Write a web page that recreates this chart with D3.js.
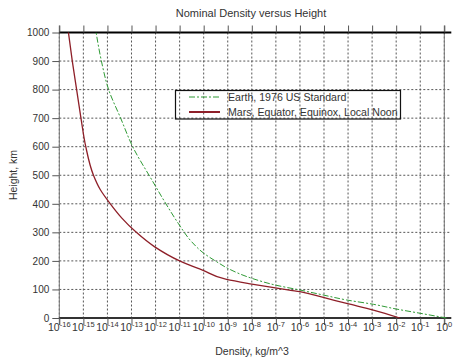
<!DOCTYPE html>
<html>
<head>
<meta charset="utf-8">
<script src="https://cdn.jsdelivr.net/npm/d3@7"></script>
<style>
  body { margin: 0; background: #fff; }
  text { font-family: "Liberation Sans", Arial, sans-serif; fill: #333; }
</style>
</head>
<body>
<svg id="chart" width="474" height="360"></svg>
<script>
// heights in km, densities as log10(kg/m^3)
var earthHeight = [0, 16.5, 31.5, 48, 63, 80, 98, 115, 139, 174, 197, 227, 267, 332, 396, 483, 600, 700, 800, 900, 1000];
var earthLogRho = [0.09, -1.0, -2.0, -2.95, -4.05, -5.0, -6.0, -7.0, -8.0, -9.0, -9.46, -10.0, -10.5, -11.06, -11.54, -12.15, -12.95, -13.45, -13.95, -14.25, -14.47];

var marsHeight = [0, 28, 51, 72, 92, 104, 119, 135, 168, 200, 250, 300, 350, 400, 450, 500, 600, 700, 800, 900, 1000];
var marsLogRho = [-1.85, -2.95, -4.06, -5.03, -6.0, -6.9, -8.0, -9.05, -10.05, -11.0, -12.05, -12.8, -13.4, -13.88, -14.3, -14.58, -14.9, -15.1, -15.28, -15.46, -15.62];

var xExponents = d3.range(-16, 1);
var yTicks = d3.range(0, 1001, 100);
var seriesNames = ["Earth, 1976 US Standard", "Mars, Equator, Equinox, Local Noon"];

var svg = d3.select("#chart");

var x = d3.scaleLog().domain([1e-16, 1]).range([59.3, 444.3]);
var y = d3.scaleLinear().domain([0, 1000]).range([318, 32.5]);

var x0 = x.range()[0], x1 = x.range()[1];
var yTop = y(1000), yBot = y(0);

// grid
svg.append("g").selectAll("line").data(xExponents).enter().append("line")
  .attr("x1", d => x(Math.pow(10, d))).attr("x2", d => x(Math.pow(10, d)))
  .attr("y1", yTop).attr("y2", yBot)
  .attr("stroke", "#555").attr("stroke-dasharray", "2,2");
svg.append("g").selectAll("line").data(yTicks).enter().append("line")
  .attr("x1", x0).attr("x2", x1 + 7)
  .attr("y1", d => y(d)).attr("y2", d => y(d))
  .attr("stroke", "#555").attr("stroke-dasharray", "2,2");

// frame
svg.append("line").attr("x1", x0).attr("x2", x0).attr("y1", yTop - 7).attr("y2", yBot + 7)
  .attr("stroke", "#777");
svg.append("line").attr("x1", x1).attr("x2", x1).attr("y1", yTop - 7).attr("y2", yBot + 7)
  .attr("stroke", "#777");
svg.append("line").attr("x1", x0).attr("x2", x1 + 7).attr("y1", yTop).attr("y2", yTop)
  .attr("stroke", "#000").attr("stroke-width", 2);
svg.append("line").attr("x1", x0).attr("x2", x1 + 7).attr("y1", yBot).attr("y2", yBot)
  .attr("stroke", "#333").attr("stroke-width", 2);

// y axis
var yAxis = svg.append("g").attr("transform", "translate(" + x0 + ",0)")
  .call(d3.axisLeft(y).tickValues(yTicks).tickSize(7).tickSizeOuter(0).tickFormat(d3.format("d")));
yAxis.select(".domain").remove();
yAxis.selectAll("line").attr("stroke", "#555");
yAxis.selectAll("text").attr("x", -10).style("font-size", "10px")
  .style("font-family", "'Liberation Sans', Arial, sans-serif").attr("fill", "#333");

// x axis bottom + top ticks
var xAxis = svg.append("g").attr("transform", "translate(0," + yBot + ")")
  .call(d3.axisBottom(x).tickValues(xExponents.map(d => Math.pow(10, d))).tickSize(7).tickSizeOuter(0).tickFormat(""));
xAxis.select(".domain").remove();
xAxis.selectAll("line").attr("stroke", "#555");
var xTop = svg.append("g").attr("transform", "translate(0," + yTop + ")")
  .call(d3.axisTop(x).tickValues(xExponents.map(d => Math.pow(10, d))).tickSize(7).tickSizeOuter(0).tickFormat(""));
xTop.select(".domain").remove();
xTop.selectAll("line").attr("stroke", "#555");

var labels = svg.append("g").selectAll("text").data(xExponents).enter().append("text")
  .attr("x", d => x(Math.pow(10, d))).attr("y", 331)
  .attr("text-anchor", "middle").style("font-size", "10.5px");
labels.append("tspan").text("10");
labels.append("tspan").attr("dy", -4).style("font-size", "7.5px").text(d => String(d));

// curves
var line = d3.line()
  .x(d => x(Math.pow(10, d[1])))
  .y(d => y(d[0]))
  .curve(d3.curveMonotoneY);

svg.append("path").datum(d3.zip(earthHeight, earthLogRho))
  .attr("d", line).attr("fill", "none")
  .attr("stroke", "#2f9a35").attr("stroke-width", 1)
  .attr("stroke-dasharray", "6,2,2,2");
svg.append("path").datum(d3.zip(marsHeight, marsLogRho))
  .attr("d", line).attr("fill", "none")
  .attr("stroke", "#8e1f28").attr("stroke-width", 1.3);

// legend
var lg = svg.append("g");
lg.append("rect").attr("x", 175.5).attr("y", 90.5).attr("width", 225).attr("height", 28.5)
  .attr("fill", "none").attr("stroke", "#111").attr("stroke-width", 1.2);
lg.append("line").attr("x1", 189).attr("x2", 220).attr("y1", 97).attr("y2", 97)
  .attr("stroke", "#2f9a35").attr("stroke-dasharray", "6,2,2,2");
lg.append("line").attr("x1", 189).attr("x2", 220).attr("y1", 112).attr("y2", 112)
  .attr("stroke", "#8e1f28").attr("stroke-width", 2);
lg.selectAll("text").data(seriesNames).enter().append("text")
  .attr("x", 228).attr("y", (d, i) => 100.5 + i * 15)
  .style("font-size", "10.6px").text(d => d);

// titles
svg.append("text").attr("x", 251).attr("y", 17).attr("text-anchor", "middle")
  .style("font-size", "11px").text("Nominal Density versus Height");
svg.append("text").attr("x", 252).attr("y", 355).attr("text-anchor", "middle")
  .style("font-size", "10.5px").text("Density, kg/m^3");
svg.append("text").attr("transform", "translate(17,175) rotate(-90)").attr("text-anchor", "middle")
  .style("font-size", "10.5px").text("Height, km");
</script>
</body>
</html>
